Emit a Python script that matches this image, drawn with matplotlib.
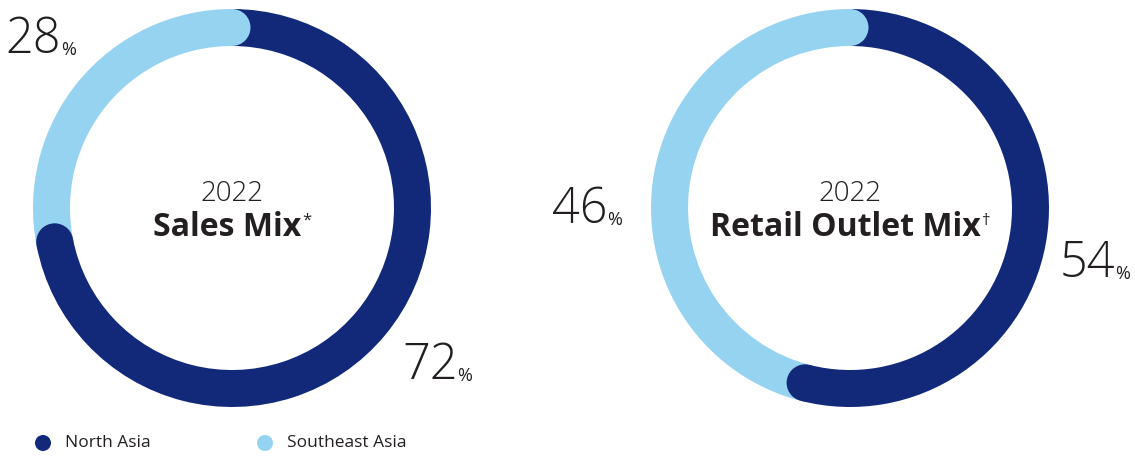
import numpy as np
import matplotlib.pyplot as plt
from matplotlib.patches import Wedge, Circle

# Regional split for each ring (North Asia, Southeast Asia), in percent
regions = ['North Asia', 'Southeast Asia']
sales_mix = [72, 28]
outlet_mix = [54, 46]
year = '2022'
titles = ['Sales Mix', 'Retail Outlet Mix']
marks = ['*', '\u2020']

NAVY = '#12297a'
SKY = '#96d3f1'
INK = '#231f20'
FONT = 'Open Sans'

W, H = 1135, 457
R_OUT = 199
RING = 37


def draw_ring(ax, cx, cy, shares):
    # first share starts at 12 o'clock and runs clockwise
    total = sum(shares)
    a_mid = 90 - 360 * shares[0] / total
    ax.add_patch(Wedge((cx, cy), R_OUT, a_mid, 90, width=RING, color=NAVY, lw=0))
    ax.add_patch(Wedge((cx, cy), R_OUT, 90, a_mid + 360, width=RING, color=SKY, lw=0))
    # rounded ends, each laid over the start of the next segment
    rm = R_OUT - RING / 2
    ax.add_patch(Circle((cx, cy + rm), RING / 2, color=SKY, lw=0))
    t = np.radians(a_mid)
    ax.add_patch(Circle((cx + rm * np.cos(t), cy + rm * np.sin(t)), RING / 2,
                        color=NAVY, lw=0))


def pct_label(ax, x, y, value):
    t = ax.text(x, y, str(value), fontsize=35, color=INK, fontweight='light',
                ha='left', va='baseline', family=FONT)
    ax.annotate('%', xycoords=t, xy=(1, 0), xytext=(0, 4.5), textcoords='offset points',
                fontsize=13, color=INK, ha='left', va='bottom', family=FONT)


def centre_text(ax, cx, cy, title, mark):
    ax.text(cx, cy + 14, year, fontsize=20, color=INK, fontweight='light',
            ha='center', va='center', family=FONT)
    t = ax.text(cx - 5, cy - 20, title, fontsize=23, color=INK, fontweight='bold',
                ha='center', va='center', family=FONT)
    ax.annotate(mark, xycoords=t, xy=(1, 0.72), xytext=(1, 0), textcoords='offset points',
                fontsize=12, color=INK, ha='left', va='center', family=FONT)


fig = plt.figure(figsize=(W / 100, H / 100), dpi=100)
ax = fig.add_axes([0, 0, 1, 1])
ax.set_xlim(0, W)
ax.set_ylim(0, H)
ax.set_aspect('equal')
ax.axis('off')

left_c = (232, H - 208)
right_c = (850, H - 208)

draw_ring(ax, *left_c, sales_mix)
draw_ring(ax, *right_c, outlet_mix)

centre_text(ax, *left_c, titles[0], marks[0])
centre_text(ax, *right_c, titles[1], marks[1])

pct_label(ax, 5, H - 53, sales_mix[1])
pct_label(ax, 402, H - 379, sales_mix[0])
pct_label(ax, 552, H - 223, outlet_mix[1])
pct_label(ax, 1060, H - 277, outlet_mix[0])

# legend
for x, name, col in [(43, regions[0], NAVY), (265, regions[1], SKY)]:
    ax.add_patch(Circle((x, H - 443), 8, color=col, lw=0))
    ax.text(x + 22, H - 443, name, fontsize=12.5, color=INK, ha='left', va='center',
            family=FONT)

fig.savefig('out.png', dpi=100)
